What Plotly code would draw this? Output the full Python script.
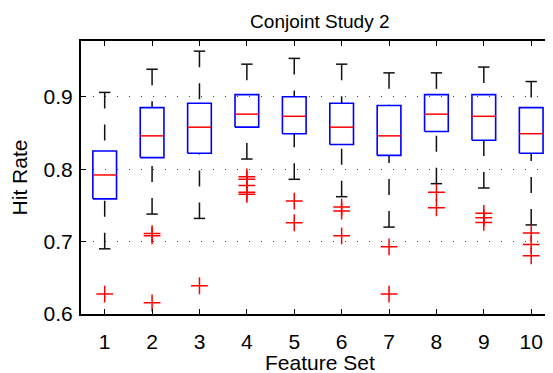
import plotly.graph_objects as go

feature_sets = [1, 2, 3, 4, 5, 6, 7, 8, 9, 10]
upper_cap = [0.906, 0.938, 0.963, 0.945, 0.953, 0.945, 0.933, 0.933, 0.941, 0.921]
q3 = [0.825, 0.885, 0.891, 0.903, 0.900, 0.891, 0.888, 0.903, 0.903, 0.885]
median = [0.792, 0.846, 0.858, 0.876, 0.873, 0.858, 0.846, 0.876, 0.873, 0.849]
q1 = [0.759, 0.816, 0.822, 0.858, 0.849, 0.834, 0.819, 0.852, 0.840, 0.822]
lower_cap = [0.690, 0.738, 0.732, 0.814, 0.786, 0.762, 0.720, 0.780, 0.774, 0.723]
outlier_set = [1, 2, 2, 2, 3, 4, 4, 4, 4, 4, 5, 5, 6, 6, 6, 7, 7, 8, 8, 9, 9, 9, 10, 10, 10]
outlier_value = [0.6275, 0.711, 0.708, 0.6155, 0.639, 0.7895, 0.786, 0.7776, 0.768, 0.7652,
                 0.756, 0.726, 0.7477, 0.7421, 0.708, 0.6928, 0.6275, 0.768, 0.7467,
                 0.739, 0.733, 0.7265, 0.7117, 0.6961, 0.6804]
tick_labels = [str(v) for v in feature_sets]

BOX_HALF = 0.25
CAP_HALF = 0.12

box_x, box_y = [], []
med_x, med_y = [], []
wh_x, wh_y = [], []
cap_x, cap_y = [], []
for i, f in enumerate(feature_sets):
    box_x += [f - BOX_HALF, f + BOX_HALF, f + BOX_HALF, f - BOX_HALF, f - BOX_HALF, None]
    box_y += [q1[i], q1[i], q3[i], q3[i], q1[i], None]
    med_x += [f - BOX_HALF, f + BOX_HALF, None]
    med_y += [median[i], median[i], None]
    wh_x += [f, f, None, f, f, None]
    wh_y += [upper_cap[i], q3[i], None, lower_cap[i], q1[i], None]
    cap_x += [f - CAP_HALF, f + CAP_HALF, None, f - CAP_HALF, f + CAP_HALF, None]
    cap_y += [upper_cap[i], upper_cap[i], None, lower_cap[i], lower_cap[i], None]

fig = go.Figure()
fig.add_trace(go.Scatter(x=wh_x, y=wh_y, mode="lines",
                         line=dict(color="#111111", width=1.5, dash="16px,16px"),
                         hoverinfo="skip", showlegend=False))
fig.add_trace(go.Scatter(x=cap_x, y=cap_y, mode="lines",
                         line=dict(color="#111111", width=1.5),
                         hoverinfo="skip", showlegend=False))
fig.add_trace(go.Scatter(x=box_x, y=box_y, mode="lines",
                         line=dict(color="#0000ff", width=1.6),
                         hoverinfo="skip", showlegend=False))
fig.add_trace(go.Scatter(x=med_x, y=med_y, mode="lines",
                         line=dict(color="#ff0000", width=1.5),
                         hoverinfo="skip", showlegend=False))
fig.add_trace(go.Scatter(x=outlier_set, y=outlier_value, mode="markers",
                         marker=dict(symbol="cross-thin", size=12,
                                     line=dict(color="#ff0000", width=1.5)),
                         showlegend=False))

FONT = "Liberation Sans, Arial, Helvetica, sans-serif"
W, H = 545, 365  # page body has an 8px margin
fig.update_layout(
    width=W, height=H,
    margin=dict(l=73, r=0, t=33, b=59),
    paper_bgcolor="white", plot_bgcolor="white",
    font=dict(family=FONT, size=21, color="black"),
    title=dict(text="Conjoint Study 2", x=0.506, xref="paper", xanchor="center",
               y=1 - 13 / H, yref="container", yanchor="middle",
               font=dict(size=19, family=FONT, color="black")),
    xaxis=dict(range=[0.5, 10.46], tickmode="array", tickvals=feature_sets,
               ticktext=tick_labels, ticks="inside", ticklen=5, tickwidth=1,
               tickcolor="black", showline=True, linecolor="black", linewidth=2,
               mirror="ticks", showgrid=False, zeroline=False,
               tickfont=dict(size=21), ticklabelstandoff=8,
               automargin=False),
    yaxis=dict(range=[0.6, 0.977], tickmode="array", tickvals=[0.6, 0.7, 0.8, 0.9],
               ticktext=["0.6", "0.7", "0.8", "0.9"], ticks="inside", ticklen=5,
               tickwidth=1, tickcolor="black", showline=True, linecolor="black",
               linewidth=2, mirror="ticks", showgrid=True, gridcolor="#444444",
               gridwidth=1.2, griddash="1px,11px", zeroline=False,
               tickfont=dict(size=21), ticklabelstandoff=2,
               title=dict(text="Hit Rate", font=dict(size=21), standoff=13),
               automargin=False),
    annotations=[dict(text="Feature Set", xref="paper", yref="paper",
                      x=0.506, y=-48 / 273, xanchor="center", yanchor="middle",
                      showarrow=False, font=dict(size=21, family=FONT, color="black"))],
)

fig.write_html("out.html")
